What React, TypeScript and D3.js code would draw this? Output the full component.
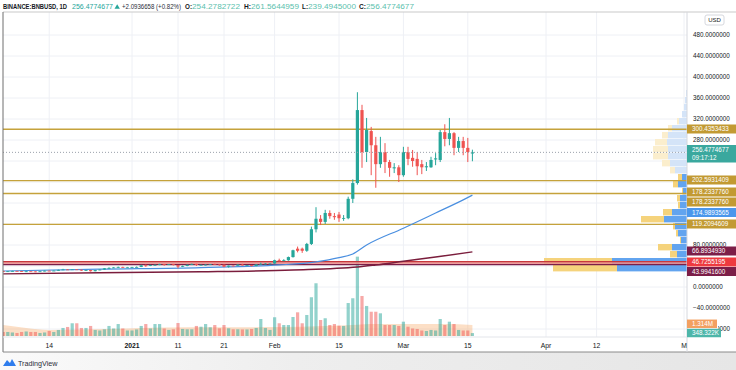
import React, { useEffect, useRef } from 'react';
import * as d3 from 'd3';

const W = 736;
const H = 370;
const firstDay = new Date(2020, 11, 4);

// daily candles, Dec 4 2020 .. Mar 16 2021
const opens = [
  30.6, 28.9, 30.0, 30.6, 30.4, 29.4, 29.9, 29.6, 28.8, 29.9, 31.0, 30.9, 31.2, 32.5, 33.4, 33.2, 33.6, 32.9, 31.3, 32.2, 30.1, 32.2, 33.2, 35.6, 36.4, 37.2, 38.2, 37.4,
  37.4, 37.9, 38.2, 41.2, 41.1, 41.8, 42.2, 43.4, 42.4, 43.3, 41.8, 38.8, 40.1, 42.4, 44.0, 41.9, 42.2, 42.6, 43.3, 43.0, 42.6, 38.7, 40.6, 40.5, 42.7, 41.3, 41.7, 39.9, 43.0, 44.0, 44.6,
  44.7, 51, 50, 51, 57, 73, 73, 69, 82, 110, 130, 124, 141, 135, 138, 131, 131, 168, 198, 337, 257, 297, 270, 234, 257, 238, 226, 228,
  213, 257, 246, 244, 234, 228, 228, 243, 242, 295, 282, 293, 265, 278, 265, 254.2782722,
];
const highs = [
  30.8, 30.2, 30.9, 30.9, 30.6, 30.2, 30.1, 29.7, 30.0, 31.3, 31.3, 31.5, 33.0, 34.6, 33.8, 34.2, 34.0, 33.5, 32.5, 32.6, 32.5, 33.5, 36.2, 37.5, 37.8, 38.8, 38.6, 38.2,
  38.3, 39.0, 42.5, 43.0, 42.4, 43.0, 44.2, 44.0, 43.8, 44.0, 42.0, 40.8, 42.7, 44.5, 44.3, 43.0, 43.2, 43.8, 44.5, 43.5, 42.8, 41.0, 41.2, 43.0, 44.0, 42.0, 42.0, 43.5, 46.5, 45.5, 45.3,
  52, 54, 53, 58, 71, 77, 75, 84, 115, 152, 137, 147, 146, 141, 143, 137, 172, 205, 371, 347, 322, 305, 286, 286, 274, 242, 236, 232,
  267, 267, 261, 257, 242, 238, 248, 255, 299, 310, 322, 295, 286, 286, 284, 261.5644959,
];
const lows = [
  28.3, 28.6, 29.7, 30.0, 29.1, 28.5, 29.2, 28.3, 28.7, 29.8, 30.5, 30.6, 31.0, 32.2, 32.5, 33.0, 32.3, 30.8, 30.5, 29.4, 29.8, 31.8, 33.0, 34.8, 36.0, 36.5, 36.8, 36.9,
  36.8, 37.2, 37.9, 38.5, 39.8, 40.6, 41.5, 40.5, 42.0, 41.0, 35.5, 38.0, 39.5, 41.8, 40.0, 41.2, 41.0, 41.8, 42.5, 40.5, 37.8, 37.0, 40.0, 40.2, 41.0, 40.2, 39.2, 39.6, 42.5, 43.3, 43.6,
  44, 48.5, 49, 50, 56, 66, 65, 67, 80, 104, 118, 120, 130, 128, 124, 126, 129, 160, 195, 227, 238, 213, 189, 227, 217, 210, 217, 200,
  210, 232, 229, 213, 215, 221, 227, 232, 238, 268, 270, 251, 257, 251, 238, 239.4945,
];
const closes = [
  28.9, 30.0, 30.6, 30.4, 29.4, 29.9, 29.6, 28.8, 29.9, 31.0, 30.9, 31.2, 32.5, 33.4, 33.2, 33.6, 32.9, 31.3, 32.2, 30.1, 32.2, 33.2, 35.6, 36.4, 37.2, 38.2, 37.4, 37.4,
  37.9, 38.2, 41.2, 41.1, 41.8, 42.2, 43.4, 42.4, 43.3, 41.8, 38.8, 40.1, 42.4, 44.0, 41.9, 42.2, 42.6, 43.3, 43.0, 42.6, 38.7, 40.6, 40.5, 42.7, 41.3, 41.7, 39.9, 43.0, 44.0, 44.6, 44.7,
  51, 50, 51, 57, 70, 69, 69, 82, 110, 130, 124, 141, 135, 133, 131, 131.5, 168, 198, 337, 257, 299, 270, 234, 257, 238, 227, 228, 213,
  257, 244, 240, 230, 228, 230, 242, 245, 295, 282, 293, 265, 278, 265, 257, 256.4774677,
];
// volume, millions
const volumes = [
  0.48, 0.48, 0.42, 0.36, 0.48, 0.54, 0.48, 0.48, 0.36, 0.42, 0.60, 0.48, 0.72, 0.96, 1.08, 1.52, 1.52, 0.96, 0.96, 1.20, 0.72, 0.66, 0.80, 1.20, 0.90, 1.43, 0.90, 0.66,
  0.66, 0.78, 1.20, 1.43, 0.90, 1.43, 1.43, 0.90, 0.72, 0.80, 1.55, 0.84, 0.80, 0.80, 1.20, 1.11, 1.43, 1.04, 1.31, 0.92, 1.31, 0.92, 0.80, 0.80, 0.78, 0.78, 0.84, 0.96, 2.03, 0.96, 0.72,
  2.24, 1.52, 1.31, 1.31, 2.27, 2.83, 1.52, 2.51, 4.63, 6.30, 1.91, 2.12, 1.31, 1.43, 1.23, 1.20, 3.94, 4.51, 9.48, 4.78, 3.59, 2.90, 2.90, 2.71, 1.31, 1.31, 1.31, 1.20,
  1.71, 1.11, 0.90, 0.84, 0.66, 0.60, 0.72, 0.66, 2.03, 1.31, 1.71, 1.43, 0.72, 0.66, 0.66, 0.348,
];

// moving averages
const ma50Dates = ['2020-12-04', '2020-12-25', '2021-01-16', '2021-02-02', '2021-02-10', '2021-02-15', '2021-02-18', '2021-02-21', '2021-03-01', '2021-03-08', '2021-03-14', '2021-03-16'];
const ma50Values = [30.5, 34, 37, 42, 48, 56, 63, 80, 112, 141, 166, 174.9893565];
const ma200Dates = ['2020-12-04', '2020-12-25', '2021-01-16', '2021-02-05', '2021-02-19', '2021-02-23', '2021-03-01', '2021-03-08', '2021-03-16'];
const ma200Values = [25, 27, 29, 32.5, 38, 42, 49, 57, 66.893493];
const volMaDates = ['2020-12-04', '2020-12-09', '2020-12-14', '2020-12-24', '2021-01-03', '2021-01-13', '2021-01-23', '2021-02-02', '2021-02-12', '2021-02-19', '2021-02-22', '2021-03-10', '2021-03-16'];
const volMaValues = [1.31, 0.96, 0.72, 0.8, 0.96, 1.05, 1.05, 1.08, 1.2, 1.35, 1.43, 1.43, 1.314];

const goldLevels = [300.4353433, 202.5931409, 178.233776, 119.2094609];
const priceTicks = [480, 440, 400, 360, 320, 280, 80, 0, -40];
const gridPrices = [-80, -40, 0, 40, 80, 120, 160, 200, 240, 280, 320, 360, 400, 440, 480];
const timeTickDates = ['2020-12-14', '2021-01-01', '2021-01-11', '2021-01-21', '2021-02-01', '2021-02-15', '2021-03-01', '2021-03-15', '2021-04-01', '2021-04-12', '2021-05-01'];
const timeTickLabels = ['14', '2021', '11', '21', 'Feb', '15', 'Mar', '15', 'Apr', '12', 'M'];

// visible-range volume profile rows (price low of each row), up / down volume
const vpRowSize = 13.33;
const vpRowLows = [28.6, 41.9, 55.2, 68.6, 81.9, 95.2, 108.6, 121.9, 135.2, 148.6, 161.9, 175.2, 188.6, 201.9, 215.2, 228.6, 241.9, 255.2, 268.6, 281.9, 295.2, 308.6, 321.9, 335.2, 348.6, 361.9];
const vpUp = [7.0, 7.5, 1.0, 1.5, 0.6, 0.9, 1.2, 2.3, 1.5, 0.7, 0.7, 0.4, 0.9, 0.5, 1.2, 1.7, 1.9, 1.9, 2.0, 1.9, 1.5, 0.8, 0.5, 0.3, 0.2, 0.1];
const vpDown = [6.4, 6.8, 0.7, 1.4, 0.1, 0.2, 0.2, 2.3, 0.9, 0.2, 0.3, 0.1, 0.5, 0.4, 0.5, 0.8, 1.5, 1.5, 1.2, 0.6, 0.4, 0.2, 0, 0, 0, 0];
const vpFaded = [0, 0, 0, 0, 0, 0, 0, 0, 0, 0, 0, 0, 0, 0, 1, 1, 1, 1, 1, 1, 1, 1, 1, 1, 1, 1];

// labels on the price scale: text, y position of the tag, colour
const tagTexts = ['300.4353433', '202.5931409', '178.2337760', '178.2337760', '174.9893565', '119.2094609', '66.8934930', '46.7255195', '43.9941600'];
const tagYs = [129, 180, 192, 202, 212.5, 224, 251, 262, 271.5];
const tagColors = ['#c29a33', '#c29a33', '#c29a33', '#c29a33', '#4b97ec', '#c29a33', '#7c1e48', '#ee3a3f', '#7c1e48'];

// header segments: text, x, width, colour, bold
const headTexts = ['BINANCE:BNBUSD, 1D', '256.4774677', '+2.0936658 (+0.82%)', 'O:', '254.2782722', 'H:', '261.5644959', 'L:', '239.4945000', 'C:', '256.4774677'];
const headXs = [3, 72, 122, 185, 192, 244, 251, 302, 308, 359, 366];
const headWs = [64, 41, 59, 7, 48, 7, 48, 6, 48, 7, 48];
const headColors = ['#131722', '#26a69a', '#2a2e39', '#131722', '#5cbfae', '#131722', '#5cbfae', '#131722', '#5cbfae', '#131722', '#5cbfae'];
const headBold = [1, 0, 0, 1, 0, 1, 0, 1, 0, 1, 0];

const FONT = "'Liberation Sans', Arial, sans-serif";
const GREEN = '#26a69a';
const RED = '#ef5350';

const App = () => {
  const ref = useRef<SVGSVGElement>(null);

  useEffect(() => {
    document.body.style.margin = '0';
    const svg = d3.select(ref.current);
    svg.selectAll('*').remove();

    const paneL = 3, paneR = 687, paneT = 12, paneB = 337, frameB = 352;
    const parse = d3.timeParse('%Y-%m-%d');
    const x = d3.scaleTime().domain([new Date(2021, 0, 1), new Date(2021, 4, 1)]).range([132, 684]);
    const y = d3.scaleLinear().domain([0, 480]).range([287, 35]);
    const yVol = d3.scaleLinear().domain([0, 10]).range([336, 252.3]);
    const vpLen = d3.scaleLinear().domain([0, 14.3]).range([0, 143]);

    const days = closes.map((_, i) => d3.timeDay.offset(firstDay, i));

    const defs = svg.append('defs');
    defs.append('clipPath').attr('id', 'pane')
      .append('rect').attr('x', paneL).attr('y', paneT).attr('width', paneR - paneL).attr('height', paneB - paneT);
    defs.append('clipPath').attr('id', 'm80')
      .append('rect').attr('x', 718).attr('y', 320).attr('width', 18).attr('height', 12);
    const grad = defs.append('linearGradient').attr('id', 'foot').attr('x1', 0).attr('x2', 1);
    grad.append('stop').attr('offset', 0).attr('stop-color', '#fafafa');
    grad.append('stop').attr('offset', 0.4).attr('stop-color', '#eeeeee');
    grad.append('stop').attr('offset', 1).attr('stop-color', '#e6e6e6');

    svg.append('rect').attr('width', W).attr('height', H).attr('fill', '#fff');

    // footer strip
    svg.append('rect').attr('x', 0).attr('y', frameB).attr('width', W).attr('height', H - frameB).attr('fill', 'url(#foot)');

    const pane = svg.append('g').attr('clip-path', 'url(#pane)');

    // grid
    pane.selectAll('.vg').data(timeTickDates).enter().append('line')
      .attr('x1', d => x(parse(d)!)).attr('x2', d => x(parse(d)!))
      .attr('y1', paneT).attr('y2', paneB)
      .attr('stroke', '#eef0f5').attr('stroke-width', 1);
    pane.selectAll('.hg').data(gridPrices).enter().append('line')
      .attr('x1', paneL).attr('x2', paneR)
      .attr('y1', d => y(d)).attr('y2', d => y(d))
      .attr('stroke', '#eef0f5').attr('stroke-width', 1);

    // volume profile
    vpRowLows.forEach((lo, i) => {
      const top = y(lo + vpRowSize);
      const h = y(lo) - top - 0.6;
      const up = vpLen(vpUp[i]);
      const dn = vpLen(vpDown[i]);
      const faded = vpFaded[i] === 1;
      pane.append('rect').attr('x', paneR - up).attr('y', top).attr('width', up).attr('height', h)
        .attr('fill', faded ? '#d4e4f8' : '#62a4ef');
      pane.append('rect').attr('x', paneR - up - dn).attr('y', top).attr('width', dn).attr('height', h)
        .attr('fill', faded ? '#fbeecd' : '#f5d37c');
    });

    // volume MA area + volume bars
    const volArea = d3.area<number>()
      .x((_, i) => x(parse(volMaDates[i])!))
      .y0(yVol(0))
      .y1(d => yVol(d))
      .curve(d3.curveMonotoneX);
    pane.append('path').datum(volMaValues).attr('d', volArea)
      .attr('fill', '#f7a35c').attr('opacity', 0.35);

    pane.selectAll('.vol').data(volumes).enter().append('rect')
      .attr('x', (_, i) => x(days[i]) - 1.6)
      .attr('width', 3.2)
      .attr('y', d => yVol(d))
      .attr('height', d => yVol(0) - yVol(d))
      .attr('fill', (_, i) => (closes[i] >= opens[i] ? GREEN : RED))
      .attr('opacity', 0.5);

    // horizontal levels
    goldLevels.forEach(p => {
      pane.append('line').attr('x1', paneL).attr('x2', paneR).attr('y1', y(p)).attr('y2', y(p))
        .attr('stroke', '#c5a23b').attr('stroke-width', 1.4);
    });
    pane.append('rect').attr('x', paneL).attr('width', paneR - paneL)
      .attr('y', y(46.7255195) - 1).attr('height', y(43.99416) - y(46.7255195) + 2)
      .attr('fill', '#e98c8c').attr('opacity', 0.85);
    pane.append('line').attr('x1', paneL).attr('x2', paneR).attr('y1', y(46.7255195) - 0.8).attr('y2', y(46.7255195) - 0.8)
      .attr('stroke', '#c8383c').attr('stroke-width', 1.2);
    pane.append('line').attr('x1', paneL).attr('x2', paneR).attr('y1', y(43.99416) + 0.8).attr('y2', y(43.99416) + 0.8)
      .attr('stroke', '#7c1e48').attr('stroke-width', 1.2);

    // moving averages
    const maLine = (dates: string[]) => d3.line<number>()
      .x((_, i) => x(parse(dates[i])!))
      .y(d => y(d))
      .curve(d3.curveMonotoneX);
    pane.append('path').datum(ma200Values).attr('d', maLine(ma200Dates))
      .attr('fill', 'none').attr('stroke', '#7a1d3c').attr('stroke-width', 1.5);
    pane.append('path').datum(ma50Values).attr('d', maLine(ma50Dates))
      .attr('fill', 'none').attr('stroke', '#4a8fe0').attr('stroke-width', 1.2);

    // candles
    const candle = pane.selectAll('.c').data(closes).enter().append('g');
    candle.append('line')
      .attr('x1', (_, i) => x(days[i])).attr('x2', (_, i) => x(days[i]))
      .attr('y1', (_, i) => y(highs[i])).attr('y2', (_, i) => y(lows[i]))
      .attr('stroke', (d, i) => (d >= opens[i] ? GREEN : RED)).attr('stroke-width', 1);
    candle.append('rect')
      .attr('x', (_, i) => x(days[i]) - 1.6).attr('width', 3.2)
      .attr('y', (d, i) => y(Math.max(d, opens[i])))
      .attr('height', (d, i) => Math.max(0.8, Math.abs(y(d) - y(opens[i]))))
      .attr('fill', (d, i) => (d >= opens[i] ? GREEN : RED));

    // last price line
    const last = closes[closes.length - 1];
    pane.append('line').attr('x1', paneL).attr('x2', paneR).attr('y1', y(last)).attr('y2', y(last))
      .attr('stroke', '#9aa0ab').attr('stroke-width', 1).attr('stroke-dasharray', '1,2');

    // frame
    svg.append('line').attr('x1', paneL).attr('x2', W).attr('y1', paneT).attr('y2', paneT).attr('stroke', '#c9c9c9');
    svg.append('line').attr('x1', paneL).attr('x2', paneL).attr('y1', paneT).attr('y2', frameB).attr('stroke', '#6f6f6f');
    svg.append('line').attr('x1', paneL).attr('x2', W).attr('y1', frameB).attr('y2', frameB).attr('stroke', '#8a8a8a');
    svg.append('line').attr('x1', paneR).attr('x2', paneR).attr('y1', paneT).attr('y2', frameB).attr('stroke', '#d6d8de');
    svg.append('line').attr('x1', paneL).attr('x2', paneR).attr('y1', paneB).attr('y2', paneB).attr('stroke', '#e3e5ea');

    // time axis
    svg.selectAll('.tt').data(timeTickDates).enter().append('text')
      .attr('x', d => x(parse(d)!)).attr('y', 347.5)
      .attr('text-anchor', 'middle')
      .attr('font-family', FONT).attr('font-size', 6.8)
      .attr('font-weight', (_, i) => (timeTickLabels[i] === '2021' ? 'bold' : 'normal'))
      .attr('fill', '#131722')
      .text((_, i) => timeTickLabels[i]);

    // price axis
    svg.selectAll('.pt').data(priceTicks).enter().append('text')
      .attr('x', 693).attr('y', d => y(d) + 2.3)
      .attr('font-family', FONT).attr('font-size', 6.3).attr('fill', '#131722')
      .text(d => d3.format('.7f')(d));
    // -80 tick, mostly hidden behind the volume tags
    svg.append('text').attr('x', 693).attr('y', y(-80) + 2.3).attr('clip-path', 'url(#m80)')
      .attr('font-family', FONT).attr('font-size', 6.3).attr('fill', '#131722')
      .text(d3.format('.7f')(-80));

    svg.append('rect').attr('x', 705).attr('y', 15).attr('width', 19).attr('height', 10).attr('rx', 2)
      .attr('fill', '#fff').attr('stroke', '#d6d8de');
    svg.append('text').attr('x', 714.5).attr('y', 22.2).attr('text-anchor', 'middle')
      .attr('font-family', FONT).attr('font-size', 6).attr('fill', '#131722').text('USD');

    const tag = (text: string, cy: number, color: string, w = 49, h = 9) => {
      svg.append('rect').attr('x', 687).attr('y', cy - h / 2).attr('width', w).attr('height', h).attr('fill', color);
      svg.append('text').attr('x', 692).attr('y', cy + 2.3)
        .attr('font-family', FONT).attr('font-size', 6.3).attr('fill', '#fff').text(text);
    };
    tagTexts.forEach((t, i) => tag(t, tagYs[i], tagColors[i]));

    // last price tag with countdown
    svg.append('rect').attr('x', 687).attr('y', 145).attr('width', 49).attr('height', 17.5).attr('fill', '#3aa89e');
    svg.append('text').attr('x', 692).attr('y', 152.2).attr('font-family', FONT).attr('font-size', 6.3).attr('fill', '#fff')
      .text(d3.format('.7f')(last));
    svg.append('text').attr('x', 692).attr('y', 160).attr('font-family', FONT).attr('font-size', 6.3).attr('fill', '#fff')
      .text('09:17:12');

    // volume tags
    tag('1.314M', 323.8, '#f3a061', 30, 8.5);
    tag('348.322K', 333, '#4db6a9', 34, 8.5);

    // header
    headTexts.forEach((t, i) => {
      svg.append('text').attr('x', headXs[i]).attr('y', 9)
        .attr('font-family', FONT).attr('font-size', 6.6)
        .attr('font-weight', headBold[i] ? 'bold' : 'normal')
        .attr('fill', headColors[i])
        .attr('textLength', headWs[i]).attr('lengthAdjust', 'spacingAndGlyphs')
        .text(t);
    });
    svg.append('path').attr('d', 'M114.5,8.8 L117.2,4.2 L119.9,8.8 Z').attr('fill', GREEN);

    // TradingView mark
    const logo = svg.append('g').attr('transform', 'translate(3,358)');
    logo.append('path').attr('d', 'M0,8 L4,2 L7,5 L9,1 L13,8 Z').attr('fill', '#2f7ded');
    svg.append('text').attr('x', 18).attr('y', 365.5).attr('font-family', FONT).attr('font-size', 7.2)
      .attr('fill', '#2a2e39').text('TradingView');
  }, []);

  return <svg ref={ref} width={W} height={H} style={{ display: 'block' }} />;
};

export default App;
